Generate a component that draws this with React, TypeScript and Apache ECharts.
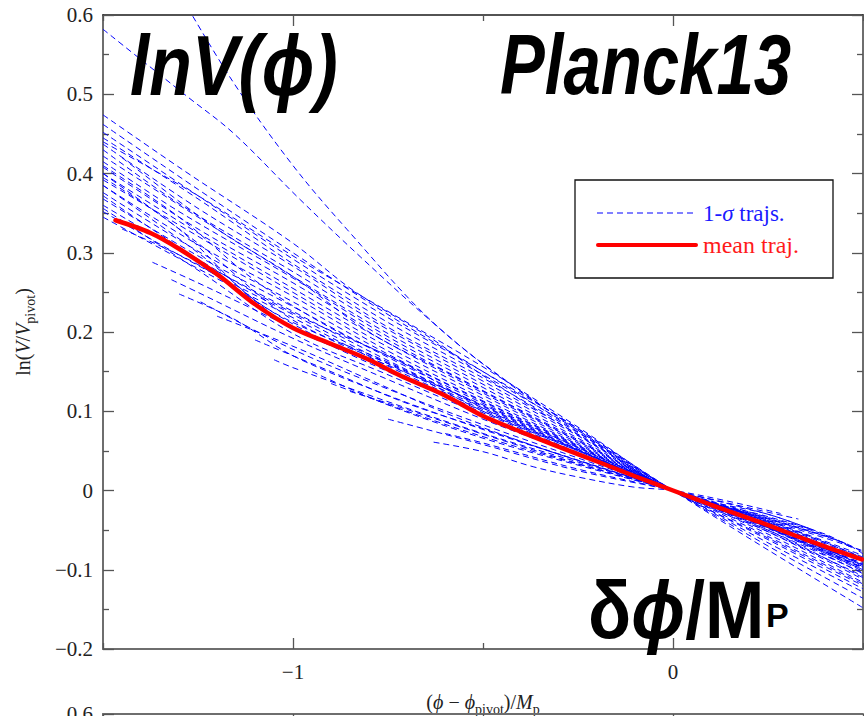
import React, { useEffect, useRef } from "react";
import * as echarts from "echarts";

// Axis ranges and tick positions
const X_MIN = -1.5;
const X_MAX = 0.5;
const Y_MIN = -0.2;
const Y_MAX = 0.6;
const xMajorTicks = [-1, 0];
const xMinorTicks = [-1.5, -0.5, 0.5];
const lowerPanelLabels = [0.6];

// 1-sigma reconstructed trajectories, [phi, lnV] pairs
const fanTrajs: number[][][] = [
  [[-1.29, 0.62], [-1.157, 0.515], [-1.0, 0.41], [-0.857, 0.329], [-0.638, 0.215], [-0.42, 0.131], [-0.25, 0.078], [0, 0], [0.25, -0.075], [0.5, -0.148]],
  [[-1.5, 0.582], [-1.278, 0.497], [-1.157, 0.451], [-0.981, 0.367], [-0.823, 0.295], [-0.63, 0.211], [-0.5, 0.16], [-0.25, 0.076], [0, 0], [0.25, -0.07], [0.5, -0.136]],
  [[-1.5, 0.474], [-1.288, 0.404], [-1.0, 0.312], [-0.84, 0.252], [-0.63, 0.19], [-0.5, 0.145], [-0.25, 0.07], [0, 0], [0.25, -0.066], [0.5, -0.128]],
  [[-1.5, 0.462], [-1.25, 0.38], [-1.0, 0.3], [-0.75, 0.222], [-0.5, 0.15], [-0.25, 0.074], [0, 0], [0.25, -0.062], [0.5, -0.124]],
  [[-1.5, 0.44], [-1.25, 0.372], [-1.0, 0.296], [-0.75, 0.226], [-0.5, 0.156], [-0.25, 0.08], [0, 0], [0.25, -0.06], [0.5, -0.12]],
  [[-1.45, 0.42], [-1.2, 0.33], [-1.0, 0.27], [-0.8, 0.2], [-0.6, 0.15], [-0.4, 0.1], [-0.2, 0.05], [0, 0], [0.25, -0.058], [0.5, -0.118]],
];

const upperTrajs: number[][][] = [
  [[-1.5, 0.452], [-1.25, 0.372], [-1.0, 0.292], [-0.75, 0.218], [-0.5, 0.15], [-0.25, 0.078], [0, 0], [0.25, -0.052], [0.5, -0.108]],
  [[-1.5, 0.445], [-1.25, 0.368], [-1.0, 0.286], [-0.75, 0.212], [-0.5, 0.146], [-0.25, 0.076], [0, 0], [0.25, -0.03], [0.37, -0.05]],
  [[-1.5, 0.437], [-1.25, 0.356], [-1.0, 0.283], [-0.75, 0.206], [-0.5, 0.142], [-0.25, 0.073], [0, 0], [0.25, -0.033], [0.4, -0.055], [0.47, -0.072]],
  [[-1.5, 0.43], [-1.3, 0.362], [-1.0, 0.276], [-0.75, 0.203], [-0.5, 0.138], [-0.25, 0.071], [0, 0], [0.25, -0.035], [0.45, -0.066], [0.5, -0.08]],
  [[-1.5, 0.422], [-1.25, 0.345], [-1.0, 0.27], [-0.75, 0.198], [-0.5, 0.134], [-0.25, 0.069], [0, 0], [0.25, -0.038], [0.5, -0.085]],
  [[-1.5, 0.415], [-1.3, 0.352], [-1.0, 0.268], [-0.75, 0.194], [-0.5, 0.13], [-0.25, 0.066], [0, 0], [0.25, -0.04], [0.5, -0.09]],
  [[-1.5, 0.408], [-1.25, 0.33], [-1.0, 0.262], [-0.75, 0.19], [-0.5, 0.126], [-0.25, 0.064], [0, 0], [0.25, -0.042], [0.5, -0.095]],
  [[-1.5, 0.4], [-1.25, 0.325], [-1.0, 0.255], [-0.75, 0.186], [-0.5, 0.123], [-0.25, 0.062], [0, 0], [0.25, -0.045], [0.5, -0.1]],
  [[-1.5, 0.392], [-1.3, 0.335], [-1.0, 0.25], [-0.75, 0.181], [-0.5, 0.12], [-0.25, 0.06], [0, 0], [0.25, -0.047], [0.5, -0.105]],
  [[-1.5, 0.385], [-1.25, 0.31], [-1.0, 0.245], [-0.75, 0.176], [-0.5, 0.116], [-0.25, 0.058], [0, 0], [0.25, -0.05], [0.5, -0.11]],
  [[-1.5, 0.376], [-1.25, 0.302], [-1.0, 0.238], [-0.75, 0.172], [-0.5, 0.113], [-0.25, 0.057], [0, 0], [0.25, -0.036], [0.42, -0.06]],
  [[-1.5, 0.368], [-1.25, 0.296], [-1.0, 0.232], [-0.75, 0.168], [-0.5, 0.11], [-0.25, 0.055], [0, 0], [0.25, -0.052], [0.5, -0.112]],
  [[-1.5, 0.36], [-1.25, 0.29], [-1.0, 0.226], [-0.75, 0.164], [-0.5, 0.107], [-0.25, 0.054], [0, 0], [0.25, -0.055], [0.5, -0.116]],
  [[-1.5, 0.352], [-1.25, 0.284], [-1.0, 0.222], [-0.75, 0.16], [-0.5, 0.104], [-0.25, 0.052], [0, 0], [0.25, -0.043], [0.5, -0.098]],
  [[-1.5, 0.345], [-1.25, 0.28], [-1.0, 0.218], [-0.75, 0.157], [-0.5, 0.102], [-0.25, 0.051], [0, 0], [0.25, -0.046], [0.5, -0.102]],
];

const middleTrajs: number[][][] = [
  [[-1.5, 0.4], [-1.25, 0.312], [-1.0, 0.215], [-0.75, 0.162], [-0.5, 0.106], [-0.25, 0.052], [0, 0], [0.25, -0.048], [0.5, -0.1]],
  [[-1.5, 0.385], [-1.25, 0.3], [-1.0, 0.205], [-0.75, 0.158], [-0.5, 0.108], [-0.25, 0.054], [0, 0], [0.25, -0.05], [0.5, -0.104]],
  [[-1.5, 0.372], [-1.25, 0.292], [-1.0, 0.224], [-0.75, 0.17], [-0.5, 0.112], [-0.25, 0.056], [0, 0], [0.25, -0.045], [0.5, -0.094]],
  [[-1.5, 0.356], [-1.25, 0.278], [-1.0, 0.198], [-0.75, 0.146], [-0.5, 0.095], [-0.25, 0.046], [0, 0], [0.25, -0.042], [0.5, -0.088]],
  [[-1.45, 0.33], [-1.25, 0.285], [-1.0, 0.21], [-0.75, 0.152], [-0.5, 0.1], [-0.25, 0.05], [0, 0], [0.25, -0.046], [0.5, -0.096]],
  [[-1.5, 0.395], [-1.3, 0.33], [-1.1, 0.24], [-0.9, 0.19], [-0.7, 0.15], [-0.5, 0.1], [-0.25, 0.05], [0, 0], [0.25, -0.047], [0.5, -0.098]],
  [[-1.5, 0.41], [-1.3, 0.345], [-1.1, 0.265], [-0.9, 0.205], [-0.7, 0.158], [-0.5, 0.104], [-0.25, 0.051], [0, 0], [0.25, -0.044], [0.5, -0.093]],
];

const lowerTrajs: number[][][] = [
  [[-1.37, 0.288], [-1.25, 0.262], [-1.0, 0.205], [-0.75, 0.15], [-0.5, 0.098], [-0.25, 0.048], [0, 0], [0.25, -0.045], [0.5, -0.092]],
  [[-1.32, 0.266], [-1.25, 0.25], [-1.0, 0.192], [-0.75, 0.14], [-0.5, 0.09], [-0.25, 0.045], [0, 0], [0.25, -0.047], [0.5, -0.097]],
  [[-1.243, 0.238], [-1.0, 0.178], [-0.75, 0.128], [-0.5, 0.083], [-0.25, 0.041], [0, 0], [0.25, -0.044], [0.5, -0.094]],
  [[-1.3, 0.248], [-1.15, 0.215], [-1.0, 0.17], [-0.75, 0.12], [-0.5, 0.077], [-0.25, 0.038], [0, 0], [0.25, -0.04], [0.5, -0.086]],
  [[-1.05, 0.165], [-1.0, 0.155], [-0.75, 0.112], [-0.5, 0.072], [-0.25, 0.036], [0, 0], [0.25, -0.038], [0.5, -0.082]],
  [[-0.63, 0.061], [-0.5, 0.049], [-0.368, 0.03], [-0.25, 0.017], [-0.105, 0.0044], [0, 0], [0.15, -0.014], [0.283, -0.029]],
  [[-0.6, 0.072], [-0.5, 0.06], [-0.25, 0.027], [0, 0], [0.25, -0.03], [0.37, -0.05]],
  [[-0.95, 0.15], [-0.75, 0.108], [-0.5, 0.066], [-0.25, 0.032], [0, 0], [0.25, -0.034], [0.4, -0.056], [0.47, -0.072]],
  [[-0.85, 0.125], [-0.75, 0.11], [-0.5, 0.071], [-0.25, 0.034], [0, 0], [0.25, -0.036], [0.45, -0.066], [0.5, -0.078]],
  [[-1.2, 0.22], [-1.0, 0.182], [-0.8, 0.14], [-0.6, 0.098], [-0.4, 0.062], [-0.2, 0.03], [0, 0], [0.25, -0.041], [0.5, -0.09]],
  [[-1.1, 0.19], [-0.9, 0.15], [-0.7, 0.11], [-0.5, 0.078], [-0.3, 0.046], [0, 0], [0.25, -0.039], [0.5, -0.084]],
  [[-0.9, 0.135], [-0.7, 0.1], [-0.5, 0.068], [-0.3, 0.04], [0, 0], [0.2, -0.03], [0.4, -0.06], [0.5, -0.076]],
  [[-0.75, 0.09], [-0.5, 0.058], [-0.25, 0.025], [0, 0], [0.2, -0.022], [0.33, -0.036]],
];

// Mean trajectory
const meanTraj: number[][] = [
  [-1.467, 0.341], [-1.375, 0.325], [-1.3, 0.305], [-1.2, 0.273], [-1.1, 0.235], [-1.0, 0.205],
  [-0.9, 0.185], [-0.8, 0.165], [-0.718, 0.145], [-0.6, 0.12], [-0.5, 0.094], [-0.4, 0.074],
  [-0.3, 0.055], [-0.191, 0.035], [-0.1, 0.018], [0, 0], [0.1, -0.018], [0.229, -0.04],
  [0.35, -0.062], [0.497, -0.087],
];

const SERIF = '"Liberation Serif", "DejaVu Serif", serif';
const SANS = '"Liberation Sans", Arial, sans-serif';
const AXIS_GRAY = "#6e6e6e";

const fmtY = (v: number) => {
  const r = Math.round(v * 10) / 10;
  if (r === 0) return "0";
  return (r < 0 ? "\u2212" : "") + Math.abs(r).toFixed(1);
};
const fmtX = (v: number) => {
  const r = Math.round(v * 10) / 10;
  if (r === 0) return "0";
  return (r < 0 ? "\u2212" : "") + String(Math.abs(r));
};

function xAxisPair(gridIndex: number, position: "top" | "bottom", lineColor: string, lineWidth: number, withLabels: boolean) {
  const major: any = {
    type: "value",
    gridIndex,
    position,
    min: X_MIN,
    max: X_MAX,
    interval: 0.5,
    axisLine: { show: true, onZero: false, lineStyle: { color: lineColor, width: lineWidth } },
    axisTick: { show: true, inside: true, length: 11, customValues: xMajorTicks, lineStyle: { color: "#555", width: 1.3 } },
    axisLabel: withLabels
      ? { show: true, customValues: xMajorTicks, formatter: fmtX, fontFamily: SERIF, fontSize: 21, color: "#222", margin: 12 }
      : { show: false },
    splitLine: { show: false },
  };
  const minor: any = {
    type: "value",
    gridIndex,
    position,
    min: X_MIN,
    max: X_MAX,
    interval: 0.5,
    axisLine: { show: false, onZero: false },
    axisTick: { show: true, inside: true, length: 6, customValues: xMinorTicks, lineStyle: { color: "#555", width: 1.3 } },
    axisLabel: { show: false },
    splitLine: { show: false },
  };
  return [major, minor];
}

function yAxisDef(gridIndex: number, position: "left" | "right", withLabels: boolean, labelValues?: number[]) {
  const label: any = withLabels
    ? { show: true, formatter: fmtY, fontFamily: SERIF, fontSize: 21, color: "#222", margin: 10 }
    : { show: false };
  if (withLabels && labelValues) label.customValues = labelValues;
  return {
    type: "value",
    gridIndex,
    position,
    min: Y_MIN,
    max: Y_MAX,
    interval: 0.1,
    axisLine: { show: true, onZero: false, lineStyle: { color: AXIS_GRAY, width: 2 } },
    axisTick: { show: true, inside: true, length: 11, lineStyle: { color: "#555", width: 1.3 } },
    minorTick: { show: true, splitNumber: 2, length: 6, lineStyle: { color: "#555", width: 1.3 } },
    axisLabel: label,
    splitLine: { show: false },
    minorSplitLine: { show: false },
  } as any;
}

const nameRich = {
  r: { fontFamily: SERIF, fontSize: 20, color: "#222", lineHeight: 28, verticalAlign: "middle" },
  i: { fontFamily: SERIF, fontSize: 20, fontStyle: "italic", color: "#222", lineHeight: 28, verticalAlign: "middle" },
  s: { fontFamily: SERIF, fontSize: 14, color: "#222", lineHeight: 14, verticalAlign: "bottom" },
};

export default function App() {
  const ref = useRef<HTMLDivElement>(null);

  useEffect(() => {
    if (!ref.current) return;
    const chart = echarts.init(ref.current, undefined, { renderer: "svg" });

    const trajStyle = { color: "#0000ff", width: 1, type: [6, 4] as any };
    const trajSeries = [...fanTrajs, ...upperTrajs, ...middleTrajs, ...lowerTrajs].map((d) => ({
      type: "line",
      name: "1-\u03c3 trajs.",
      xAxisIndex: 0,
      yAxisIndex: 0,
      data: d,
      showSymbol: false,
      smooth: 0.35,
      silent: true,
      clip: true,
      lineStyle: trajStyle,
      z: 2,
    }));

    const [bx0, bx1] = xAxisPair(0, "bottom", AXIS_GRAY, 2, true);
    const [tx0, tx1] = xAxisPair(0, "top", "#1a1a1a", 1.5, false);
    const [px0, px1] = xAxisPair(1, "top", AXIS_GRAY, 2, false);

    const yMain = yAxisDef(0, "left", true);
    yMain.name = "{r|ln(}{i|V}{r|/}{i|V}{s|pivot}{r|)}";
    yMain.nameLocation = "middle";
    yMain.nameRotate = 90;
    yMain.nameGap = 66;
    yMain.nameTextStyle = { rich: nameRich };

    bx0.name = "{r|(}{i|\u03d5}{r| \u2212 }{i|\u03d5}{s|pivot}{r|)/}{i|M}{s|p}";
    bx0.nameLocation = "middle";
    bx0.nameGap = 39;
    bx0.nameTextStyle = { rich: nameRich };

    const option: any = {
      animation: false,
      backgroundColor: "#ffffff",
      grid: [
        { left: 103, right: 1, top: 15, bottom: 67, containLabel: false, outerBoundsMode: "none" },
        { left: 103, right: 1, top: 714, height: 300, containLabel: false, outerBoundsMode: "none" },
      ],
      xAxis: [bx0, bx1, tx0, tx1, px0, px1],
      yAxis: [yMain, yAxisDef(0, "right", false), yAxisDef(1, "left", true, lowerPanelLabels)],
      series: [
        ...trajSeries,
        {
          type: "line",
          name: "mean traj.",
          xAxisIndex: 0,
          yAxisIndex: 0,
          data: meanTraj,
          showSymbol: false,
          smooth: 0.3,
          silent: true,
          lineStyle: { color: "#ff0000", width: 4.5, cap: "round" },
          z: 5,
        },
      ],
      graphic: [
        {
          type: "text",
          x: 130,
          y: 65,
          scaleX: 0.82,
          z: 10,
          style: {
            text: "lnV(\u03d5)",
            fontFamily: SANS,
            fontSize: 85,
            fontWeight: "bold",
            fontStyle: "italic",
            fill: "#000",
            verticalAlign: "middle",
          },
        },
        {
          type: "text",
          x: 500,
          y: 65,
          scaleX: 0.79,
          z: 10,
          style: {
            text: "Planck13",
            fontFamily: SANS,
            fontSize: 85,
            fontWeight: "bold",
            fontStyle: "italic",
            fill: "#000",
            verticalAlign: "middle",
          },
        },
        {
          type: "text",
          x: 588,
          y: 610,
          scaleX: 0.88,
          z: 10,
          style: {
            text: "{a|\u03b4}{b|\u03d5}{a|/M}",
            verticalAlign: "middle",
            rich: {
              a: { fontFamily: SANS, fontSize: 81, fontWeight: "bold", fill: "#000" },
              b: { fontFamily: SANS, fontSize: 81, fontWeight: "bold", fontStyle: "italic", fill: "#000" },
            },
          },
        },
        {
          type: "text",
          x: 766,
          y: 615,
          z: 10,
          style: {
            text: "P",
            fontFamily: SANS,
            fontSize: 34,
            fontWeight: "bold",
            fill: "#000",
            verticalAlign: "middle",
          },
        },
        {
          type: "group",
          z: 20,
          children: [
            {
              type: "rect",
              shape: { x: 575, y: 180, width: 258, height: 98 },
              style: { fill: "#fff", stroke: "#111", lineWidth: 1.3 },
            },
            {
              type: "line",
              shape: { x1: 597, y1: 213, x2: 697, y2: 213 },
              style: { stroke: "#0000ff", lineWidth: 1, lineDash: [6, 4] },
            },
            {
              type: "text",
              x: 703,
              y: 213,
              style: {
                text: "{r|1-}{i|\u03c3}{r| trajs.}",
                verticalAlign: "middle",
                rich: {
                  r: { fontFamily: SERIF, fontSize: 23, fill: "#1a1aff" },
                  i: { fontFamily: SERIF, fontSize: 23, fontStyle: "italic", fill: "#1a1aff" },
                },
              },
            },
            {
              type: "line",
              shape: { x1: 598, y1: 245, x2: 696, y2: 245 },
              style: { stroke: "#ff0000", lineWidth: 4, lineCap: "round" },
            },
            {
              type: "text",
              x: 703,
              y: 245,
              style: {
                text: "mean traj.",
                fontFamily: SERIF,
                fontSize: 24,
                fill: "#ff1a1a",
                verticalAlign: "middle",
              },
            },
          ],
        },
      ],
    };

    chart.setOption(option);
    return () => chart.dispose();
  }, []);

  return (
    <div
      ref={ref}
      style={{ position: "absolute", left: 0, top: 0, width: 864, height: 716, background: "#fff" }}
    />
  );
}
